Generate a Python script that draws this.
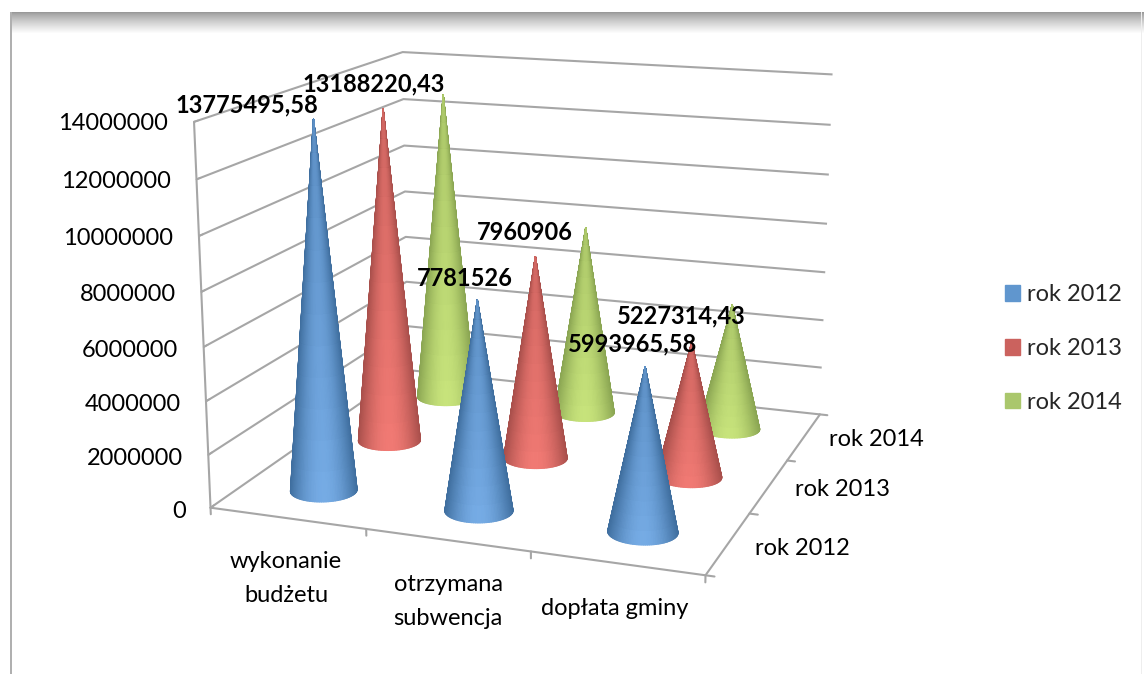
import numpy as np, matplotlib
matplotlib.use('Agg')
import matplotlib.pyplot as plt, seaborn as sns
from mpl_toolkits.mplot3d import proj3d
from matplotlib.patches import Patch, Rectangle

W, H = 1144, 674
categories = ['wykonanie\nbudżetu', 'otrzymana\nsubwencja', 'dopłata gminy']
years = ['rok 2012', 'rok 2013', 'rok 2014']
v2012 = [13775495.58, 7781526, 5993965.58]
v2013 = [13188220.43, 7960906, 5227314.43]
v2014 = [12800000, 7760000, 5120000]
label2012 = ['13775495,58', '7781526', '5993965,58']
label2013 = ['13188220,43', '7960906', '5227314,43']
offset2012 = [(-67, 14), (-13, 22), (-13, 23)]
offset2013 = [(-9, 25), (-11, 24), (-10, 26)]
zticks = list(range(0, 14000001, 2000000))
bar_colors = ['#6096CE', '#CB625E', '#AAC76C']
edge_colors = ['#3f6e9e', '#a84f4b', '#8aa552']
mid_colors = ['#76ace6', '#f27a74', '#c8e47c']
GRAY = '#a6a6a6'

sns.set_theme(style='white')
plt.rcParams['font.family'] = ['Lato', 'DejaVu Sans']
fig = plt.figure(figsize=(W/100, H/100), dpi=100)

# page frame behind the chart
for r in range(22):
    fig.add_artist(Rectangle((10/W, 1-(13+r)/H), 1, 1/H, transform=fig.transFigure, lw=0,
                             color=str(min(1, .6+.4*(r/21)**.8)), zorder=-5))
fig.add_artist(Rectangle((10/W, 0), 2/W, 1-12/H, transform=fig.transFigure, lw=0, color='#b0b0b0', zorder=-4))
fig.add_artist(Rectangle((1141/W, 0), 1/W, 1-12/H, transform=fig.transFigure, lw=0, color='#eeeeee', zorder=-4))

ax = fig.add_axes([0, 0, H/W, 1], projection='3d', computed_zorder=False)
ax.patch.set_alpha(0)
ax.set_xlim(0, 3, view_margin=0); ax.set_ylim(0, 3, view_margin=0); ax.set_zlim(0, 14e6, view_margin=0)
ax.view_init(elev=14.525, azim=-70.232)
ax.set_proj_type('persp', focal_length=0.497)
ax.set_box_aspect((2.478, 2.42, 1.894))

# scale of the projection on the page
s, a, b = 4081.8, 535.4, 281.4
ax.apply_aspect()
t0 = ax.transData.transform([[0, 0], [1, 1]])
L = H*s/(t0[1, 0]-t0[0, 0])
left = a - L*t0[0, 0]/H
bottom = (H-b) - L*t0[0, 1]/H
ax.set_position([left/W, bottom/H, L/W, L/H])
M = ax.get_proj()

for axis in (ax.xaxis, ax.yaxis, ax.zaxis):
    axis.set_pane_color((1, 1, 1, 0)); axis.pane.set_edgecolor('none')
    axis.line.set_color(GRAY); axis.line.set_linewidth(1.5)
    axis._axinfo['grid'].update(color=(1, 1, 1, 0), linewidth=0)
    axis._axinfo['tick'].update(inward_factor=0, outward_factor=0)
ax.zaxis._axinfo['grid'].update(color=GRAY, linewidth=1.5)
ax.zaxis._axinfo['tick'].update(outward_factor=.2)
ax.zaxis.set_ticks_position('lower')
ax.set_xticks([.57, 1.57, 2.54], categories, linespacing=1.75)
ax.set_yticks([.8, 1.85, 2.9], years)
ax.set_zticks(zticks, [str(v) for v in zticks])
ax.set_xlim(0, 3, view_margin=0); ax.set_ylim(0, 3, view_margin=0); ax.set_zlim(0, 14e6, view_margin=0)
ax.tick_params(labelsize=17, labelcolor='black', pad=8)
ax.tick_params(axis='y', pad=0)
ax.tick_params(axis='z', pad=2, color=GRAY, width=1.5)
for l in ax.get_zticklabels():
    l.set_ha('right'); l.set_va('center')
for l in ax.get_yticklabels():
    l.set_ha('left')

# tick marks at the category boundaries
for v in range(4):
    ax.plot([v, v], [0, 0], [0, -2.5e5], color=GRAY, lw=1.5, zorder=2)
    ax.plot([3, 3.05], [v, v], [0, 0], color=GRAY, lw=1.5, zorder=2)

vals = [v2012, v2013, v2014]
zo = 3
for j in [2, 1, 0]:
    pal = np.array(sns.blend_palette([edge_colors[j], mid_colors[j]], n_colors=128))
    for i in range(3):
        th = np.linspace(0, 2*np.pi, 121); r = np.linspace(0, 1, 13)
        T, R = np.meshgrid(th, r)
        X = i+.5+.2*R*np.cos(T); Y = j+.5+.2*R*np.sin(T); Z = vals[j][i]*(1-R)
        sx = proj3d.proj_transform(X[-1], Y[-1], Z[-1], M)[0]
        u = (sx-sx.min())/(sx.max()-sx.min())
        u = (u[:-1]+u[1:])/2
        f = np.sin(np.pi*u)**.9
        rr = (r[:-1]+r[1:])/2
        bright = np.outer(.55+.45*rr, f)
        cols = pal[(bright*127).astype(int)]
        sf = ax.plot_surface(X, Y, Z, facecolors=cols, rstride=1, cstride=1, shade=False, linewidth=.8, zorder=zo)
        sf.set_edgecolor(sf._facecolor3d)
        zo += 1

for j, labs, offs in [(0, label2012, offset2012), (1, label2013, offset2013)]:
    for i in range(3):
        X, Y, _ = proj3d.proj_transform(i+.5, j+.5, vals[j][i], M)
        ax.annotate(labs[i], (X, Y), xytext=offs[i], textcoords='offset pixels', ha='center', va='center',
                    fontsize=17, fontweight='bold', color='black', zorder=100, annotation_clip=False)

handles = [Patch(color=c, label=y) for c, y in zip(bar_colors, years)]
fig.legend(handles=handles, loc='upper left', bbox_to_anchor=(1005/W, 1-284.5/H), frameon=False, fontsize=17,
           borderpad=0, borderaxespad=0, handlelength=.635, handleheight=.635, handletextpad=.3, labelspacing=1.38)
fig.savefig('out.png', dpi=100)
